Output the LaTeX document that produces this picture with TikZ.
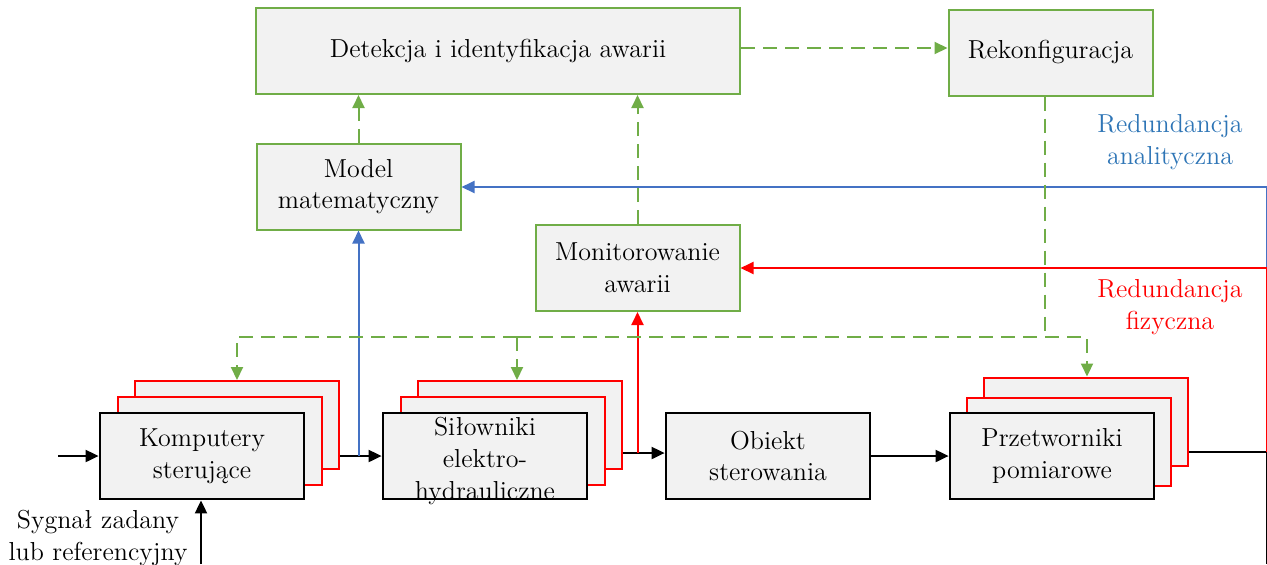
\documentclass[tikz,border=0pt]{standalone}
\usetikzlibrary{arrows.meta}
\definecolor{boxfill}{HTML}{F2F2F2}
\definecolor{grn}{HTML}{70AD47}
\definecolor{blu}{HTML}{4472C4}
\definecolor{labblue}{HTML}{2E75B6}
\definecolor{rd}{HTML}{FF0000}
\begin{document}
\begin{tikzpicture}[x=0.5pt,y=-0.5pt,
  font=\fontsize{13}{15.8}\selectfont,
  tip/.style={-{Triangle[length=6.5pt,width=6pt]}},
  blk/.style={draw=black,line width=1.4pt,fill=boxfill,minimum width=102pt,minimum height=43pt,align=center,inner sep=1pt},
  bck/.style={draw=rd,line width=1pt,fill=boxfill,minimum width=102pt,minimum height=44pt},
  gbox/.style={draw=grn,line width=1pt,fill=boxfill,minimum width=102pt,minimum height=43pt,align=center,inner sep=1pt},
  gdash/.style={draw=grn,line width=1pt,dash pattern=on 7pt off 4pt},
  sig/.style={draw=black,line width=1pt},
]
\useasboundingbox (0,0) rectangle (1267,564);

% supervisory layer
\node[gbox,minimum width=242pt] (det) at (498,51) {Detekcja i identyfikacja awarii};
\node[gbox] (rek) at (1050.5,52.5) {Rekonfiguracja};
\node[gbox] (mod) at (358.5,186.5) {Model\\matematyczny};
\node[gbox] (mon) at (637.5,268) {Monitorowanie\\awarii};

% redundant control computers
\node[bck] (kb2) at (237,425) {};
\node[bck] (kb1) at (220,441) {};
\node[blk] (komp) at (202,456) {Komputery\\sterujące};
% redundant actuators (three-line caption is taller than the box)
\node[bck] (sb2) at (520,425) {};
\node[bck] (sb1) at (502.5,441) {};
\node[blk] (sil) at (485,456) {};
\node[align=center,inner sep=0pt] (silT) at (485,461) {Siłowniki\\elektro-\\hydrauliczne};
% plant
\node[blk] (obj) at (768,456) {Obiekt\\sterowania};
% redundant sensors
\node[bck] (pb2) at (1086,421.5) {};
\node[bck] (pb1) at (1069,441.5) {};
\node[blk] (prz) at (1052,456) {Przetworniki\\pomiarowe};

% labels
\node[text=labblue,align=center] (ra) at (1170,142) {Redundancja\\analityczna};
\node[text=rd,align=center] (rf) at (1170,307) {Redundancja\\fizyczna};
\node[align=center] (sz) at (98,538) {Sygnał zadany\\lub referencyjny};

% signal chain
\coordinate (in) at (58,456);
\coordinate (ref) at (201,564);
\coordinate (outR) at (1267,452);
\coordinate (outB) at (1267,564);
\coordinate (redR) at (1267,268);
\coordinate (bluR) at (1267,187);
\draw[sig,tip] (in) -- (komp.west);
\draw[sig,tip] (ref) -- (ref |- komp.south);
\draw[sig,tip] (kb2.east |- komp) -- (sil.west);
\coordinate (sOut) at (sb2.east |- 0,453);
\draw[sig,tip] (sOut) -- (obj.west |- sOut);
\draw[sig,tip] (obj.east) -- (prz.west);
\draw[sig] (pb2.east |- outR) -- (outR) -- (outB);

% analytical redundancy (blue)
\coordinate (kTap) at (358.5,456);
\draw[draw=blu,line width=1pt,tip] (kTap) -- (mod.south);
\draw[draw=blu,line width=1pt] (redR) -- (bluR);
\draw[draw=blu,line width=1pt,tip] (bluR) -- (mod.east |- bluR);

% physical redundancy (red)
\coordinate (sTap) at (637.5,453);
\draw[draw=rd,line width=1pt,tip] (sTap) -- (mon.south);
\draw[draw=rd,line width=1pt] (outR) -- (redR);
\draw[draw=rd,line width=1pt,tip] (redR) -- (mon.east |- redR);

% supervisory links (dashed)
\draw[gdash,tip] (mod.north) -- (mod.north |- det.south);
\draw[gdash,tip] (mon.north) -- (mon.north |- det.south);
\draw[gdash,tip] (det.east |- 0,48) -- (rek.west |- 0,48);
\coordinate (rekDown) at (1045,337);
\coordinate (busL) at (237,337);
\coordinate (busS) at (517,337);
\coordinate (busP) at (1087,337);
\draw[gdash] (rek.south -| rekDown) -- (rekDown);
\draw[gdash,tip] (busS) -- (busL) -- (kb2.north);
\draw[gdash,tip] (busS) -- (busS |- sb2.north);
\draw[gdash] (busS) -- (rekDown);
\draw[gdash,tip] (rekDown) -- (busP) -- (busP |- pb2.north);
\end{tikzpicture}
\end{document}
